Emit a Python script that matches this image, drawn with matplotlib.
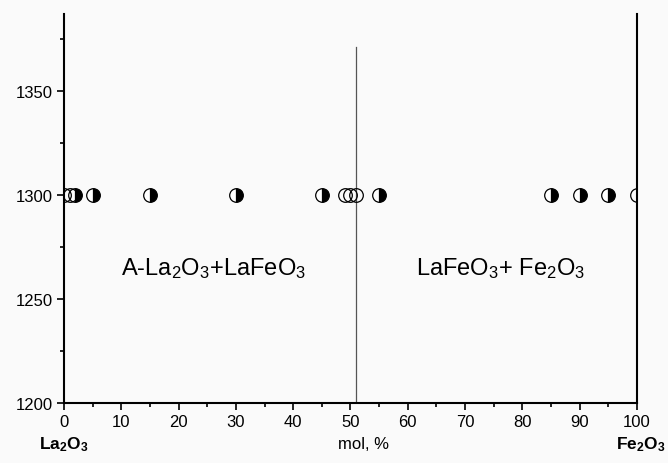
import numpy as np
import matplotlib
matplotlib.use("Agg")
import matplotlib.pyplot as plt
from matplotlib.ticker import MultipleLocator

plt.rcParams['font.family'] = ['Liberation Sans', 'DejaVu Sans']
plt.rcParams['mathtext.fontset'] = 'custom'
plt.rcParams['mathtext.rm'] = 'Liberation Sans'
plt.rcParams['mathtext.it'] = 'Liberation Sans'
plt.rcParams['mathtext.bf'] = 'Liberation Sans:bold'

# compositions (mol % Fe2O3) studied at 1300 C
open_x = [0, 1, 49, 50, 51, 100]          # single phase / boundary points
half_x = [2, 5, 15, 30, 45, 55, 85, 90, 95]  # two-phase points
temp = 1300
boundary_x = 51
boundary_top = 1371

x_ticks = list(range(0, 101, 10))
y_ticks = [1200, 1250, 1300, 1350]

fig = plt.figure(figsize=(6.68, 4.64), dpi=100, facecolor='#fafafa')
ax = fig.add_axes([0.0958, 0.1293, 0.8578, 0.8384])
ax.set_facecolor('#fafafa')

ax.plot(half_x, [temp] * len(half_x), linestyle='none', marker='o', markersize=9.8,
        fillstyle='right', markerfacecolor='black', markerfacecoloralt='white',
        markeredgecolor='black', markeredgewidth=0.9, zorder=3)
ax.plot(open_x, [temp] * len(open_x), linestyle='none', marker='o', markersize=9.8,
        markerfacecolor='none', markeredgecolor='black', markeredgewidth=0.9, zorder=3)

ax.plot([boundary_x, boundary_x], [1200, boundary_top], color='#555555', lw=0.9)

ax.set_xlim(0, 100)
ax.set_ylim(1200, 1387)
ax.set_xticks(x_ticks)
ax.set_yticks(y_ticks)
ax.xaxis.set_minor_locator(MultipleLocator(5))
ax.yaxis.set_minor_locator(MultipleLocator(25))
ax.tick_params(which='major', direction='out', length=5, width=1.2, labelsize=12, pad=3)
ax.tick_params(which='minor', direction='out', length=3, width=1.2)
ax.tick_params(axis='y', pad=3)

ax.spines['top'].set_visible(False)
for s in ['left', 'right', 'bottom']:
    ax.spines[s].set_linewidth(1.5)

ax.text(363 / 668, 19 / 464, 'mol, %', transform=fig.transFigure, ha='center', va='center', fontsize=12)
ax.text(0, -0.105, r'La$_\mathbf{2}$O$_\mathbf{3}$', transform=ax.get_xaxis_transform(),
        ha='center', va='center', fontsize=12.5, fontweight='bold')
ax.text(96.3, -0.105, r'Fe$_\mathbf{2}$O$_\mathbf{3}$', transform=ax.get_xaxis_transform(),
        ha='left', va='center', fontsize=12.5, fontweight='bold')

ax.text(10, 1265, r'A-La$_2$O$_3$+LaFeO$_3$', fontsize=17, ha='left', va='center')
ax.text(61.5, 1265, r'LaFeO$_3$+ Fe$_2$O$_3$', fontsize=17, ha='left', va='center')

fig.savefig('out.png', dpi=100, facecolor=fig.get_facecolor())
